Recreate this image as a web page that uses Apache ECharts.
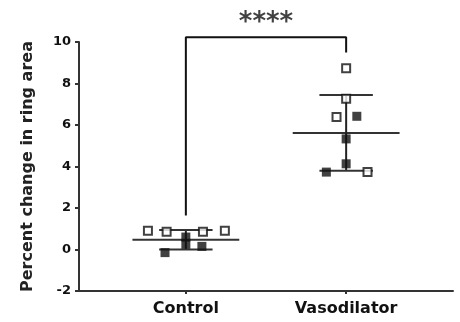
<!DOCTYPE html>
<html><head><meta charset="utf-8">
<script src="https://cdn.jsdelivr.net/npm/echarts@6/dist/echarts.min.js"></script>
<style>html,body{margin:0;padding:0;background:#fff}#c{width:460px;height:322px}</style>
</head><body><div id="c"></div>
<script>
// categories and their x positions on the axis
const categories = ['Control', 'Vasodilator'];
const catPos = [2, 5];
const yTicks = [-2, 0, 2, 4, 6, 8, 10];
// group summary (mean, SD)
const means = [0.47, 5.62];
const sds = [0.47, 1.83];
// individual points: values and horizontal jitter (in axis units)
const controlOpen = [0.9, 0.85, 0.85, 0.9];
const controlOpenJitter = [-0.71, -0.36, 0.32, 0.73];
const controlFilled = [-0.15, 0.6, 0.25, 0.15];
const controlFilledJitter = [-0.39, 0, 0, 0.3];
const vasoOpen = [8.74, 7.26, 6.38, 3.73];
const vasoOpenJitter = [0, 0, -0.18, 0.4];
const vasoFilled = [6.42, 5.33, 4.13, 3.73];
const vasoFilledJitter = [0.2, 0, 0, -0.37];
// significance bracket
const bracketLeftBottom = 1.64, bracketTop = 10.23, bracketRightBottom = 9.5;
const sigLabel = '****';
const sigLabelY = 10.9;

const FONT = 'DejaVu Sans';
function seg(x1, y1, x2, y2, w, color) {
  return {type: 'line', data: [[x1, y1], [x2, y2]], symbol: 'none', silent: true,
    lineStyle: {color: color || '#222', width: w || 2}, clip: false, z: 2};
}
const series = [];
for (let i = 0; i < 2; i++) {
  const x = catPos[i], m = means[i], s = sds[i];
  series.push(seg(x - 1.0, m, x + 1.0, m, 2, '#333'));
  series.push(seg(x, m - s, x, m + s, 2));
  series.push(seg(x - 0.5, m + s, x + 0.5, m + s, 2, '#333'));
  series.push(seg(x - 0.5, m - s, x + 0.5, m - s, 2, '#333'));
}
series.push({type: 'line', data: [[catPos[0], bracketLeftBottom], [catPos[0], bracketTop], [catPos[1], bracketTop], [catPos[1], bracketRightBottom]],
  symbol: 'none', clip: false, lineStyle: {color: '#111', width: 2}, z: 2});
series.push({type: 'scatter', data: [[(catPos[0] + catPos[1]) / 2, sigLabelY]], symbolSize: 0, clip: false,
  label: {show: true, position: 'inside', formatter: sigLabel, fontFamily: FONT, fontWeight: 'bold', fontSize: 26, color: '#111'}});
function pts(vals, jit, x) { return vals.map((v, i) => [x + jit[i], v]); }
const openStyle = {color: '#fff', borderColor: '#111', borderWidth: 2};
const filledStyle = {color: '#111'};
series.push({type: 'scatter', symbol: 'rect', symbolSize: 8, data: pts(controlOpen, controlOpenJitter, catPos[0]), itemStyle: openStyle, z: 5});
series.push({type: 'scatter', symbol: 'rect', symbolSize: 9, data: pts(controlFilled, controlFilledJitter, catPos[0]), itemStyle: filledStyle, z: 5});
series.push({type: 'scatter', symbol: 'rect', symbolSize: 8, data: pts(vasoOpen, vasoOpenJitter, catPos[1]), itemStyle: openStyle, z: 5});
series.push({type: 'scatter', symbol: 'rect', symbolSize: 9, data: pts(vasoFilled, vasoFilledJitter, catPos[1]), itemStyle: filledStyle, z: 5});

const chart = echarts.init(document.getElementById('c'), null, {renderer: 'canvas'});
chart.setOption({
  animation: false,
  grid: {left: 79, right: 7, top: 42, bottom: 31, containLabel: false},
  xAxis: {type: 'value', min: 0, max: 7, interval: 1,
    axisLine: {onZero: false, lineStyle: {color: '#333', width: 2}},
    axisTick: {show: true, customValues: catPos, length: 3, lineStyle: {color: '#333', width: 2}},
    axisLabel: {customValues: catPos, margin: 10, fontFamily: FONT, fontWeight: 'bold', fontSize: 16, color: '#111',
      formatter: v => { const i = catPos.indexOf(v); return i >= 0 ? categories[i] : ''; }},
    splitLine: {show: false}},
  yAxis: {type: 'value', min: -2, max: 10, interval: 2,
    name: 'Percent change in ring area', nameLocation: 'middle', nameGap: 43,
    nameTextStyle: {fontFamily: FONT, fontSize: 16, fontWeight: 'bold', color: '#222'},
    axisLine: {show: true, onZero: false, lineStyle: {color: '#333', width: 2}},
    axisTick: {show: true, length: 4, lineStyle: {color: '#333', width: 2}},
    axisLabel: {margin: 8, fontFamily: FONT, fontWeight: 'bold', fontSize: 13, color: '#111',
      formatter: v => yTicks.includes(v) ? String(v) : ''},
    splitLine: {show: false}},
  series: series
});
</script></body></html>
